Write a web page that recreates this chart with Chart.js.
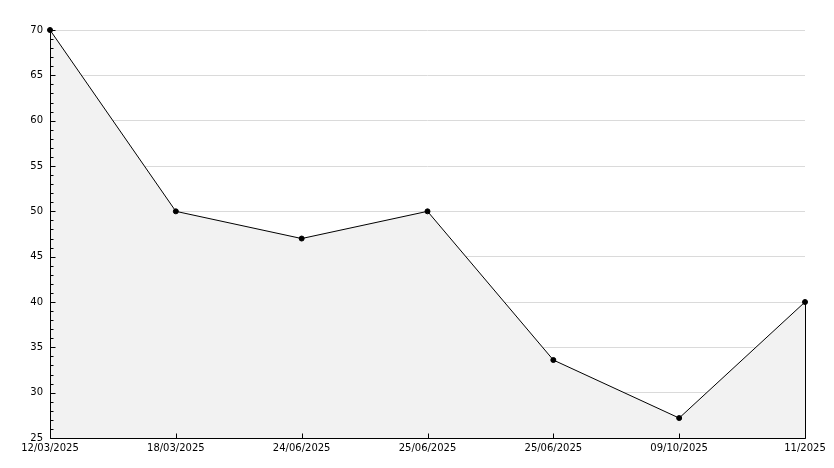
<!DOCTYPE html>
<html>
<head>
<meta charset="utf-8">
<script src="https://cdn.jsdelivr.net/npm/chart.js@4/dist/chart.umd.min.js"></script>
<style>
  body { margin: 0; background: #fff; }
  canvas { display: block; }
</style>
</head>
<body>
<canvas id="chart" width="834" height="468"></canvas>
<script>
const dates = ["12/03/2025", "18/03/2025", "24/06/2025", "25/06/2025", "25/06/2025", "09/10/2025", "11/2025"];
const values = [70, 50, 47, 50, 33.6, 27.2, 40];
const yMin = 25;
const yMax = 70;
const yStep = 5;

// ticks point inward, plus the right edge of the filled area and the axis lines
const axisDecor = {
  id: "axisDecor",
  afterDatasetsDraw(chart) {
    const ctx = chart.ctx;
    const area = chart.chartArea;
    const x = chart.scales.x;
    const y = chart.scales.y;
    ctx.save();
    ctx.strokeStyle = "#000";
    ctx.lineWidth = 1;
    ctx.beginPath();
    const left = Math.round(area.left) + 0.5;
    const bottom = Math.round(area.bottom) + 0.5;
    for (let v = yMin; v <= yMax; v++) {
      const py = Math.round(y.getPixelForValue(v)) + 0.5;
      const len = v % yStep === 0 ? 5 : 3;
      ctx.moveTo(left, py);
      ctx.lineTo(left + len, py);
    }
    dates.forEach((d, i) => {
      const px = Math.round(x.getPixelForValue(i)) + 0.5;
      ctx.moveTo(px, bottom);
      ctx.lineTo(px, bottom - 5);
    });
    const last = values.length - 1;
    const lx = Math.round(x.getPixelForValue(last)) + 0.5;
    ctx.moveTo(lx, y.getPixelForValue(values[last]));
    ctx.lineTo(lx, bottom);
    ctx.moveTo(left, Math.round(area.top));
    ctx.lineTo(left, bottom);
    ctx.lineTo(Math.round(area.right) + 0.5, bottom);
    ctx.stroke();
    ctx.restore();
  }
};

new Chart(document.getElementById("chart").getContext("2d"), {
  type: "line",
  data: {
    labels: dates,
    datasets: [
      {
        data: values,
        fill: "start",
        tension: 0,
        clip: false,
        backgroundColor: "#f2f2f2",
        borderColor: "#000",
        borderWidth: 1,
        pointRadius: 2.5,
        pointBackgroundColor: "#000",
        pointBorderColor: "#000",
        pointBorderWidth: 1,
      },
    ],
  },
  options: {
    responsive: false,
    animation: false,
    layout: { padding: { top: 30, right: 29, left: 0, bottom: 0 } },
    plugins: {
      legend: { display: false },
      tooltip: { enabled: false },
    },
    scales: {
      x: {
        type: "category",
        offset: false,
        grid: { display: false, drawTicks: false },
        border: { display: false },
        ticks: {
          color: "#000",
          padding: 4,
          maxRotation: 0,
          autoSkip: false,
          font: { family: "DejaVu Sans", size: 10 },
        },
        afterFit(scale) { scale.height = 30; },
      },
      y: {
        min: yMin,
        max: yMax,
        grid: { color: "#dadada", drawTicks: false },
        border: { display: false },
        ticks: {
          stepSize: yStep,
          color: "#000",
          padding: 7,
          font: { family: "DejaVu Sans", size: 10 },
        },
        afterFit(scale) { scale.width = 50; },
      },
    },
  },
  plugins: [axisDecor],
});
</script>
</body>
</html>
